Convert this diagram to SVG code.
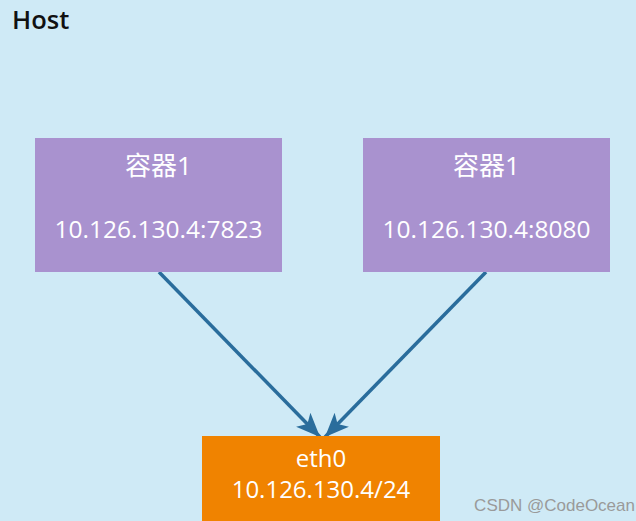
<svg xmlns="http://www.w3.org/2000/svg" width="636" height="521" viewBox="0 0 636 521">
  <style>
    .t { font-family: "Open Sans", "Noto Sans CJK SC", sans-serif; fill: #ffffff; text-anchor: middle; }
    .ip { font-size: 24.5px; }
    .title { font-size: 26px; }
    .conn { stroke: #2a6d9c; stroke-width: 3.5; fill: none; marker-end: url(#arr); }
  </style>
  <defs>
    <marker id="arr" markerUnits="userSpaceOnUse" markerWidth="28" markerHeight="24" refX="24" refY="12" orient="auto" viewBox="0 0 28 24">
      <path d="M0,2 L24,12 L0,22 L6,12 Z" fill="#2a6d9c"/>
    </marker>
  </defs>
  <rect width="636" height="521" fill="#cfeaf6"/>
  <text x="12" y="29" font-family="'Open Sans', sans-serif" font-size="25.5" font-weight="600" fill="#111">Host</text>
  <g id="connectors">
    <line class="conn" x1="159" y1="272" x2="320" y2="437"/>
    <line class="conn" x1="486" y1="272" x2="325" y2="437"/>
  </g>
  <g id="c1">
    <rect x="35" y="138" width="247" height="134" fill="#a992cf"/>
    <text class="t title" x="158.5" y="175">容器1</text>
    <text class="t ip" x="158.5" y="238">10.126.130.4:7823</text>
  </g>
  <g id="c2">
    <rect x="363" y="138" width="247" height="134" fill="#a992cf"/>
    <text class="t title" x="486.5" y="175">容器1</text>
    <text class="t ip" x="486.5" y="238">10.126.130.4:8080</text>
  </g>
  <g id="eth0">
    <rect x="202" y="436" width="238" height="85" fill="#f08300"/>
    <text class="t" x="321" y="467" font-size="24">eth0</text>
    <text class="t" x="321" y="498" font-size="24">10.126.130.4/24</text>
  </g>
  <text x="635" y="511" font-family="'Liberation Sans', sans-serif" font-size="17" fill="#9a9a9a" text-anchor="end">CSDN @CodeOcean</text>
</svg>
